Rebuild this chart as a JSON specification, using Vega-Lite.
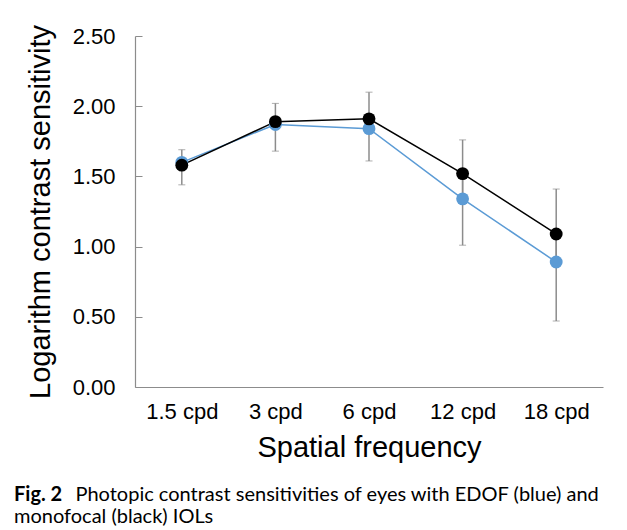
{
  "$schema": "https://vega.github.io/schema/vega-lite/v6.json",
  "width": 468,
  "height": 351,
  "autosize": {"type": "none"},
  "padding": {"left": 135, "top": 36, "right": 24, "bottom": 143},
  "background": "white",
  "data": {"values": [
    {"freq": "1.5 cpd", "series": "EDOF", "v": 1.60, "lo": 1.44, "hi": 1.60},
    {"freq": "3 cpd", "series": "EDOF", "v": 1.87, "lo": 1.68, "hi": 1.87},
    {"freq": "6 cpd", "series": "EDOF", "v": 1.84, "lo": 1.61, "hi": 1.84},
    {"freq": "12 cpd", "series": "EDOF", "v": 1.34, "lo": 1.01, "hi": 1.52},
    {"freq": "18 cpd", "series": "EDOF", "v": 0.89, "lo": 0.47, "hi": 1.09},
    {"freq": "1.5 cpd", "series": "Monofocal", "v": 1.58, "lo": 1.58, "hi": 1.69},
    {"freq": "3 cpd", "series": "Monofocal", "v": 1.89, "lo": 1.89, "hi": 2.02},
    {"freq": "6 cpd", "series": "Monofocal", "v": 1.91, "lo": 1.91, "hi": 2.10},
    {"freq": "12 cpd", "series": "Monofocal", "v": 1.52, "lo": 1.34, "hi": 1.76},
    {"freq": "18 cpd", "series": "Monofocal", "v": 1.09, "lo": 0.89, "hi": 1.41}
  ]},
  "title": {
    "text": "Fig. 2",
    "subtitle": ["\u200b\u00a0\u00a0\u00a0\u00a0\u00a0\u00a0\u00a0\u00a0\u00a0\u00a0\u00a0\u00a0Photopic contrast sensitivities of eyes with EDOF (blue) and", "monofocal (black) IOLs"],
    "orient": "bottom",
    "anchor": "start",
    "frame": "group",
    "dx": -121,
    "offset": 23,
    "font": "Lato",
    "fontSize": 20,
    "fontWeight": "bold",
    "color": "#000",
    "subtitleFont": "Lato",
    "subtitleFontSize": 20,
    "subtitleColor": "#000",
    "subtitleLineHeight": 22,
    "subtitlePadding": -20
  },
  "encoding": {
    "x": {
      "field": "freq", "type": "nominal",
      "sort": ["1.5 cpd", "3 cpd", "6 cpd", "12 cpd", "18 cpd"],
      "scale": {"type": "point", "padding": 0.5},
      "axis": {
        "title": "Spatial frequency", "labelAngle": 0, "ticks": false,
        "labelPadding": 14, "labelFontSize": 22, "labelFont": "Liberation Sans", "labelColor": "#000",
        "titleFontSize": 29, "titleFont": "Liberation Sans", "titleFontWeight": "normal", "titleColor": "#000",
        "titlePadding": 11, "domainColor": "#8c8c8c", "domainWidth": 1.2, "grid": false
      }
    }
  },
  "layer": [
    {
      "mark": {"type": "errorbar", "ticks": {"size": 7, "color": "#8c8c8c", "strokeWidth": 1.3}, "rule": {"color": "#8c8c8c", "strokeWidth": 1.5}},
      "encoding": {
        "y": {
          "field": "lo", "type": "quantitative",
          "scale": {"domain": [0, 2.5], "nice": false},
          "axis": {
            "title": "Logarithm contrast sensitivity", "values": [0, 0.5, 1, 1.5, 2, 2.5], "format": ".2f",
            "tickSize": -7, "tickColor": "#8c8c8c", "domainColor": "#8c8c8c", "domainWidth": 1.2,
            "labelPadding": 27, "labelFontSize": 22, "labelFont": "Liberation Sans", "labelColor": "#000",
            "titleFontSize": 29, "titleFont": "Liberation Sans", "titleFontWeight": "normal", "titleColor": "#000",
            "titlePadding": 17, "grid": false
          }
        },
        "y2": {"field": "hi"}
      }
    },
    {
      "mark": {"type": "line", "strokeWidth": 1.5},
      "encoding": {
        "y": {"field": "v", "type": "quantitative"},
        "color": {"field": "series", "type": "nominal", "scale": {"domain": ["EDOF", "Monofocal"], "range": ["#5b9bd5", "#000000"]}, "legend": null}
      }
    },
    {
      "mark": {"type": "circle", "size": 165, "opacity": 1},
      "encoding": {
        "y": {"field": "v", "type": "quantitative"},
        "color": {"field": "series", "type": "nominal", "legend": null}
      }
    }
  ],
  "config": {"view": {"stroke": null}, "font": "Liberation Sans"}
}
